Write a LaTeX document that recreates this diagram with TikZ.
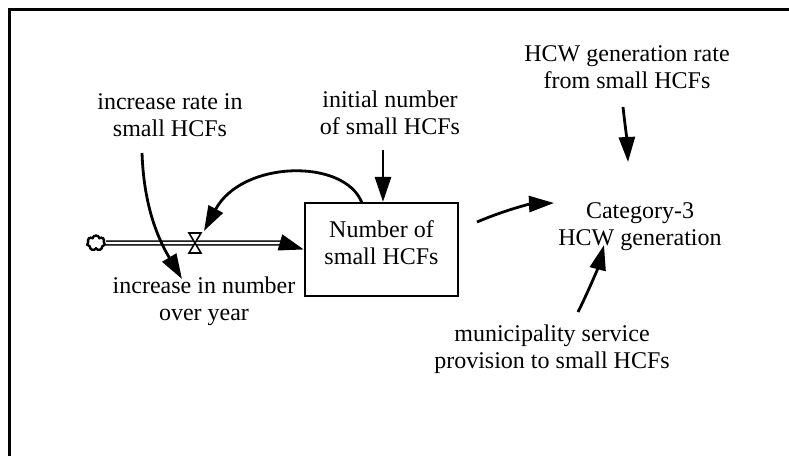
\documentclass[tikz,border=0pt]{standalone}
\usepackage{fontspec}
\setmainfont{Liberation Serif}
\usetikzlibrary{arrows.meta,shapes.symbols}
\begin{document}
\begin{tikzpicture}[x=1pt,y=-1pt,
  lbl/.style={align=center,inner sep=0pt,font=\fontsize{24}{27}\selectfont},
  link/.style={line width=2.8pt,-{Triangle[length=25pt,width=16pt]}},
  pipe/.style={double,line width=1.5pt,double distance=2.4pt},
  frame/.style={line width=3pt}]
\useasboundingbox (0,0) rectangle (789,456);
% outer frame (top and left edges)
\draw[frame] (9,456) -- (9,9) -- (789,9);

% stock
\node[draw,line width=2.2pt,minimum width=153pt,minimum height=93pt,inner sep=0pt] (stock) at (381.5,249.5) {};
\node[lbl] (stocktxt) at (381.5,242.5) {Number of\\small HCFs};

% source cloud and valve
\node[cloud,draw,line width=2.4pt,cloud puffs=7,minimum width=18pt,minimum height=15pt,inner sep=0pt,aspect=1.2] (src) at (96,243) {};
\coordinate (valve) at (195,243);
\coordinate (pipeend) at (282,243);

% flow pipe with a solid tip at the stock
\draw[pipe] (src.east) -- (pipeend);
\draw[line width=3pt,-{Triangle[length=25pt,width=16pt]}] (pipeend) -- (stock.west);
\draw[line width=1.6pt,fill=white] (valve) ++(-6,-10) -- ++(12,0) -- ++(-12,20) -- ++(12,0) -- cycle;

% labels
\node[lbl] (rate) at (170,115) {increase rate in\\small HCFs};
\node[lbl] (init) at (390,113) {initial number\\of small HCFs};
\node[lbl] (gen) at (627,67) {HCW generation rate\\from small HCFs};
\node[lbl] (cat) at (640,227) {Category-3\\HCW generation};
\node[lbl] (muni) at (552,349) {municipality service\\provision to small HCFs};
\node[lbl] (flow) at (204,301) {increase in number\\over year};

% influence links
\coordinate (rateout) at (142,153);
\coordinate (flowin) at (182,279);
\draw[link] (rateout) .. controls (144,210) and (160,242) .. (flowin);

\coordinate (fbout) at (362,203);
\coordinate (valvein) at (204,231);
\draw[link] (fbout) .. controls (345,158) and (242,160) .. (valvein);

\coordinate (initout) at (383,150);
\draw[link] (initout) -- (initout |- stock.north);

\coordinate (stockout) at (477,222);
\coordinate (catin) at (554,203);
\draw[link] (stockout) .. controls (505,210) and (530,204) .. (catin);

\coordinate (genout) at (623,107);
\coordinate (catin2) at (628,162);
\draw[link] (genout) .. controls (625,125) and (627,140) .. (catin2);

\coordinate (muniout) at (578,312);
\coordinate (catin3) at (604,245);
\draw[link] (muniout) .. controls (588,292) and (598,268) .. (catin3);
\end{tikzpicture}
\end{document}
